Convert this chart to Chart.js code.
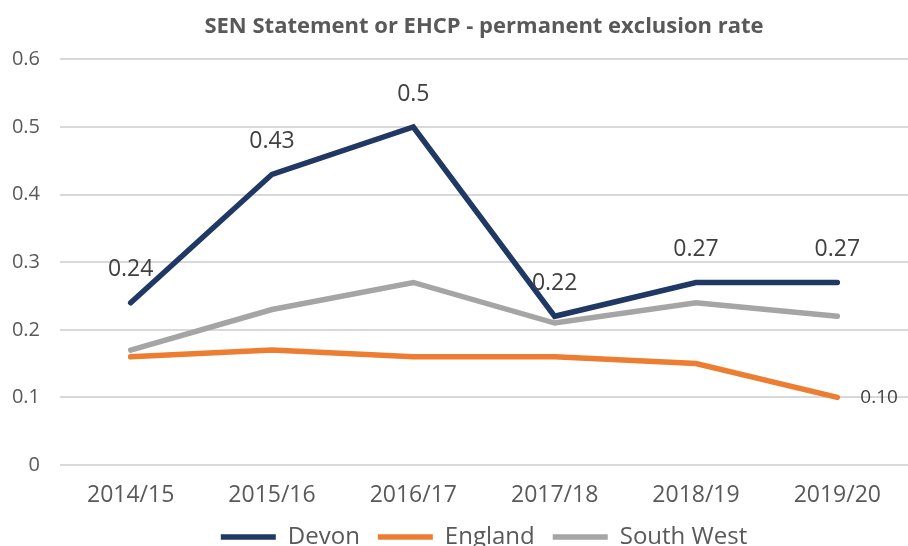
<!DOCTYPE html>
<html>
<head>
<meta charset="utf-8">
<script src="https://cdn.jsdelivr.net/npm/chart.js@4"></script>
<style>
  html, body { margin: 0; padding: 0; background: #fff; overflow: hidden; }
  #wrap { width: 908px; height: 559px; position: relative; }
</style>
</head>
<body>
<div id="wrap"><canvas id="chart"></canvas></div>
<script>
const years = ['2014/15', '2015/16', '2016/17', '2017/18', '2018/19', '2019/20'];
const devon = [0.24, 0.43, 0.5, 0.22, 0.27, 0.27];
const england = [0.16, 0.17, 0.16, 0.16, 0.15, 0.10];
const southWest = [0.17, 0.23, 0.27, 0.21, 0.24, 0.22];
const devonLabels = ['0.24', '0.43', '0.5', '0.22', '0.27', '0.27'];
const englandLabels = ['', '', '', '', '', '0.10'];

const FONT = "'Open Sans', 'Noto Sans', sans-serif";

// draws the value labels next to the points
const valueLabels = {
    id: 'valueLabels',
    afterDatasetsDraw(chart) {
        const ctx = chart.ctx;
        ctx.save();
        ctx.fillStyle = '#404040';
        ctx.textBaseline = 'middle';

        const devonMeta = chart.getDatasetMeta(0);
        ctx.font = '23px ' + FONT;
        ctx.textAlign = 'center';
        devonMeta.data.forEach((pt, i) => {
            if (devonLabels[i]) ctx.fillText(devonLabels[i], pt.x, pt.y - 33);
        });

        const engMeta = chart.getDatasetMeta(1);
        ctx.font = '19px ' + FONT;
        ctx.textAlign = 'left';
        engMeta.data.forEach((pt, i) => {
            if (englandLabels[i]) ctx.fillText(englandLabels[i], pt.x + 23, pt.y);
        });
        ctx.restore();
    }
};

const line = (label, data, color) => ({
    label: label,
    data: data,
    borderColor: color,
    backgroundColor: color,
    borderWidth: 5.5,
    borderCapStyle: 'round',
    borderJoinStyle: 'miter',
    pointRadius: 0,
    tension: 0
});

new Chart(document.getElementById('chart'), {
    type: 'line',
    data: {
        labels: years,
        datasets: [
            line('Devon', devon, '#1f3864'),
            line('England', england, '#ed7d31'),
            line('South West', southWest, '#a5a5a5')
        ]
    },
    options: {
        responsive: true,
        maintainAspectRatio: false,
        animation: false,
        layout: { padding: { left: 8, right: -4, top: 10, bottom: 0 } },
        plugins: {
            title: {
                display: true,
                fullSize: false,
                text: 'SEN Statement or EHCP - permanent exclusion rate',
                color: '#595959',
                font: { family: FONT, size: 22, weight: 'bold' },
                padding: { top: 4, bottom: 19 }
            },
            legend: {
                position: 'bottom',
                fullSize: false,
                labels: {
                    color: '#595959',
                    font: { family: FONT, size: 24 },
                    usePointStyle: true,
                    pointStyle: 'line',
                    pointStyleWidth: 55,
                    boxHeight: 6,
                    padding: 18
                }
            },
            tooltip: { enabled: false }
        },
        scales: {
            x: {
                offset: true,
                // fixed height so the legend sits close under the labels
                afterFit: (scale) => { scale.height = 42; },
                grid: { display: false, drawTicks: false },
                border: { display: false },
                ticks: { color: '#595959', font: { family: FONT, size: 23 }, padding: 17 }
            },
            y: {
                min: 0,
                max: 0.6,
                afterFit: (scale) => { scale.width = 52; },
                ticks: { stepSize: 0.1, color: '#595959', font: { family: FONT, size: 20 }, padding: 20 },
                grid: { color: '#d9d9d9', lineWidth: 2, drawTicks: false },
                border: { display: false }
            }
        }
    },
    plugins: [valueLabels]
});
</script>
</body>
</html>
